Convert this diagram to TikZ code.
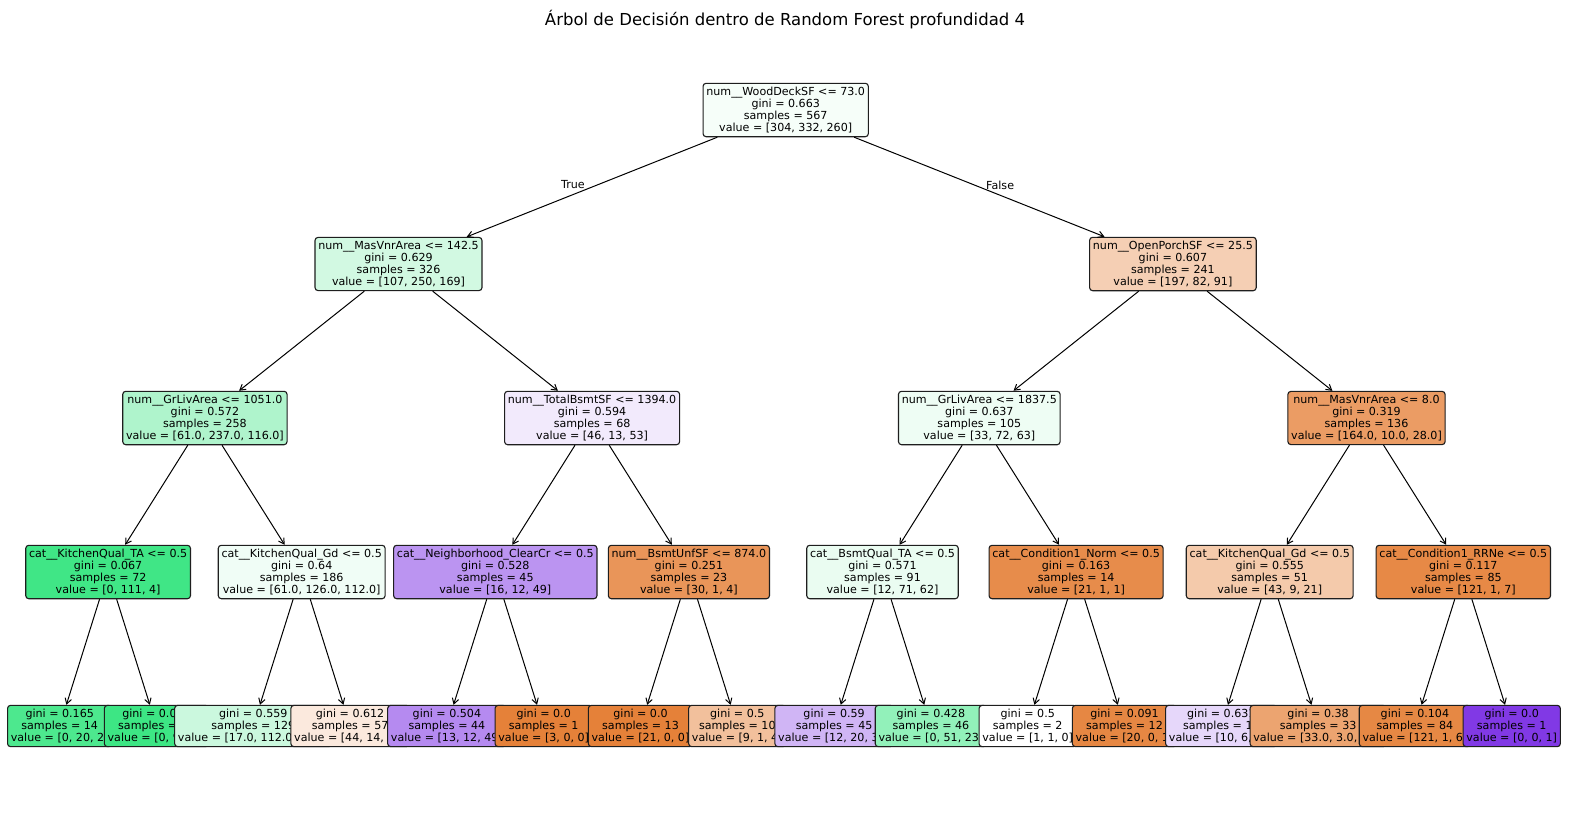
\documentclass[tikz,border=0pt]{standalone}
\usepackage{fontspec}
\setmainfont{DejaVu Sans}
\usetikzlibrary{arrows.meta}
\newcommand{\nodefnt}{\fontsize{11.1}{12.1}\selectfont}
\newcommand{\titlefnt}{\fontsize{16.5}{19.8}\selectfont}
\definecolor{edgec}{RGB}{30,30,30}
\definecolor{cR}{RGB}{246,254,249}
\definecolor{cLa}{RGB}{210,249,226}
\definecolor{cLb}{RGB}{245,207,180}
\definecolor{cA}{RGB}{175,244,204}
\definecolor{cB}{RGB}{242,234,252}
\definecolor{cC}{RGB}{238,253,244}
\definecolor{cD}{RGB}{235,156,100}
\definecolor{tA}{RGB}{64,230,134}
\definecolor{tB}{RGB}{240,253,246}
\definecolor{tC}{RGB}{187,148,241}
\definecolor{tD}{RGB}{233,149,89}
\definecolor{tE}{RGB}{234,252,241}
\definecolor{tF}{RGB}{231,140,75}
\definecolor{tG}{RGB}{244,202,171}
\definecolor{tH}{RGB}{231,137,70}
\definecolor{fA}{RGB}{77,232,142}
\definecolor{fB}{RGB}{61,230,132}
\definecolor{fC}{RGB}{203,248,222}
\definecolor{fD}{RGB}{251,233,221}
\definecolor{fE}{RGB}{181,138,240}
\definecolor{fF}{RGB}{229,129,57}
\definecolor{fG}{RGB}{229,129,57}
\definecolor{fH}{RGB}{242,192,156}
\definecolor{fI}{RGB}{208,181,245}
\definecolor{fJ}{RGB}{146,241,186}
\definecolor{fK}{RGB}{255,255,255}
\definecolor{fL}{RGB}{230,135,67}
\definecolor{fM}{RGB}{230,215,250}
\definecolor{fN}{RGB}{236,164,112}
\definecolor{fO}{RGB}{230,136,68}
\definecolor{fP}{RGB}{129,57,229}
\tikzset{
  tnode/.style={draw=edgec, line width=1.1pt, rounded corners=3pt, inner xsep=3.3pt,
    inner ysep=3.6pt, align=center, font=\nodefnt, text=black},
  arr/.style={-{Straight Barb[length=5.5pt,width=6.5pt]}, line width=1pt, draw=black},
  lbl/.style={font=\nodefnt, inner sep=0pt, text=black}
}
\begin{document}
\begin{tikzpicture}[x=1pt,y=-1pt]
\fill[white] (0,0) rectangle (1570,814);
\useasboundingbox (0,0) rectangle (1570,814);
\node[font=\titlefnt, anchor=base, inner sep=0pt] (title) at (785,25.5) {Árbol de Decisión dentro de Random Forest profundidad 4};
% root
\node[tnode, fill=cR] (r) at (785.7,110) {num\_\_WoodDeckSF <= 73.0\\gini = 0.663\\samples = 567\\value = [304, 332, 260]};
% left subtree
\node[tnode, fill=cLa] (l) at (398.5,264) {num\_\_MasVnrArea <= 142.5\\gini = 0.629\\samples = 326\\value = [107, 250, 169]};
\node[tnode, fill=cA] (a) at (204.9,418) {num\_\_GrLivArea <= 1051.0\\gini = 0.572\\samples = 258\\value = [61.0, 237.0, 116.0]};
\node[tnode, fill=tA] (t1) at (108.1,572) {cat\_\_KitchenQual\_TA <= 0.5\\gini = 0.067\\samples = 72\\value = [0, 111, 4]};
\node[tnode, fill=fA] (f1) at (59.7,726) {gini = 0.165\\samples = 14\\value = [0, 20, 2]};
\node[tnode, fill=fB] (f2) at (156.5,726) {gini = 0.042\\samples = 58\\value = [0, 91, 2]};
\node[tnode, fill=tB] (t2) at (301.7,572) {cat\_\_KitchenQual\_Gd <= 0.5\\gini = 0.64\\samples = 186\\value = [61.0, 126.0, 112.0]};
\node[tnode, fill=fC] (f3) at (253.3,726) {gini = 0.559\\samples = 129\\value = [17.0, 112.0, 78.0]};
\node[tnode, fill=fD] (f4) at (350.1,726) {gini = 0.612\\samples = 57\\value = [44, 14, 34]};
\node[tnode, fill=cB] (b) at (592.1,418) {num\_\_TotalBsmtSF <= 1394.0\\gini = 0.594\\samples = 68\\value = [46, 13, 53]};
\node[tnode, fill=tC] (t3) at (495.3,572) {cat\_\_Neighborhood\_ClearCr <= 0.5\\gini = 0.528\\samples = 45\\value = [16, 12, 49]};
\node[tnode, fill=fE] (f5) at (446.9,726) {gini = 0.504\\samples = 44\\value = [13, 12, 49]};
\node[tnode, fill=fF] (f6) at (543.7,726) {gini = 0.0\\samples = 1\\value = [3, 0, 0]};
\node[tnode, fill=tD] (t4) at (688.9,572) {num\_\_BsmtUnfSF <= 874.0\\gini = 0.251\\samples = 23\\value = [30, 1, 4]};
\node[tnode, fill=fG] (f7) at (640.5,726) {gini = 0.0\\samples = 13\\value = [21, 0, 0]};
\node[tnode, fill=fH] (f8) at (737.3,726) {gini = 0.5\\samples = 10\\value = [9, 1, 4]};
% right subtree
\node[tnode, fill=cLb] (rr) at (1172.9,264) {num\_\_OpenPorchSF <= 25.5\\gini = 0.607\\samples = 241\\value = [197, 82, 91]};
\node[tnode, fill=cC] (c) at (979.3,418) {num\_\_GrLivArea <= 1837.5\\gini = 0.637\\samples = 105\\value = [33, 72, 63]};
\node[tnode, fill=tE] (t5) at (882.5,572) {cat\_\_BsmtQual\_TA <= 0.5\\gini = 0.571\\samples = 91\\value = [12, 71, 62]};
\node[tnode, fill=fI] (f9) at (834.1,726) {gini = 0.59\\samples = 45\\value = [12, 20, 39]};
\node[tnode, fill=fJ] (f10) at (930.9,726) {gini = 0.428\\samples = 46\\value = [0, 51, 23]};
\node[tnode, fill=tF] (t6) at (1076.1,572) {cat\_\_Condition1\_Norm <= 0.5\\gini = 0.163\\samples = 14\\value = [21, 1, 1]};
\node[tnode, fill=fK] (f11) at (1027.7,726) {gini = 0.5\\samples = 2\\value = [1, 1, 0]};
\node[tnode, fill=fL] (f12) at (1124.5,726) {gini = 0.091\\samples = 12\\value = [20, 0, 1]};
\node[tnode, fill=cD] (d) at (1366.5,418) {num\_\_MasVnrArea <= 8.0\\gini = 0.319\\samples = 136\\value = [164.0, 10.0, 28.0]};
\node[tnode, fill=tG] (t7) at (1269.7,572) {cat\_\_KitchenQual\_Gd <= 0.5\\gini = 0.555\\samples = 51\\value = [43, 9, 21]};
\node[tnode, fill=fM] (f13) at (1221.3,726) {gini = 0.631\\samples = 18\\value = [10, 6, 14]};
\node[tnode, fill=fN] (f14) at (1318.1,726) {gini = 0.38\\samples = 33\\value = [33.0, 3.0, 7.0]};
\node[tnode, fill=tH] (t8) at (1463.3,572) {cat\_\_Condition1\_RRNe <= 0.5\\gini = 0.117\\samples = 85\\value = [121, 1, 7]};
\node[tnode, fill=fO] (f15) at (1414.9,726) {gini = 0.104\\samples = 84\\value = [121, 1, 6]};
\node[tnode, fill=fP] (f16) at (1511.7,726) {gini = 0.0\\samples = 1\\value = [0, 0, 1]};
% labels
\node[lbl, anchor=east] (tl) at (585,185) {True};
\node[lbl, anchor=west] (fl) at (986,185) {False};
% connectors
\foreach \p/\c in {r/l, r/rr, l/a, l/b, rr/c, rr/d, a/t1, a/t2, b/t3, b/t4, c/t5, c/t6, d/t7, d/t8,
  t1/f1, t1/f2, t2/f3, t2/f4, t3/f5, t3/f6, t4/f7, t4/f8, t5/f9, t5/f10, t6/f11, t6/f12, t7/f13, t7/f14, t8/f15, t8/f16}
  \draw[arr] (\p) -- (\c);
\end{tikzpicture}
\end{document}
